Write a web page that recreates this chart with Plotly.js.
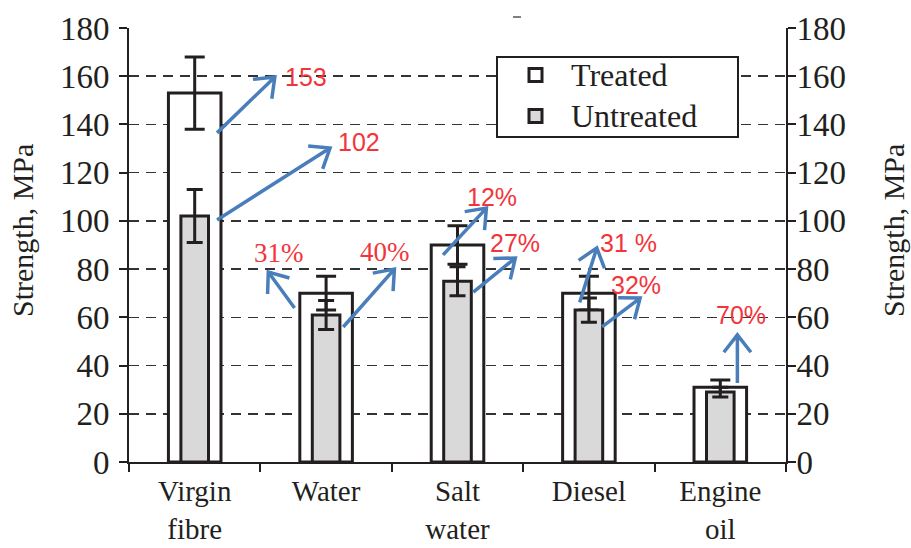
<!DOCTYPE html>
<html><head><meta charset="utf-8">
<script src="https://cdn.plot.ly/plotly-3.0.1.min.js"></script>
<style>body{margin:0;background:#fff}#chart{width:911px;height:548px}</style>
</head><body><div id="chart"></div>
<script>
const categories = ['Virgin<br>fibre', 'Water', 'Salt<br>water', 'Diesel', 'Engine<br>oil'];
const seriesNames = ['Treated', 'Untreated'];
const treated = [153, 70, 90, 70, 31];
const treatedErr = [15, 7, 8, 7, 3];
const untreated = [102, 61, 75, 63, 29];
const untreatedErr = [11, 6, 6, 5, 2];
const yTicks = [0, 20, 40, 60, 80, 100, 120, 140, 160, 180];
const gridTicks = [20, 40, 60, 80, 100, 120, 140, 160];
const yTitle = 'Strength, MPa';
const callouts = ['153', '102', '31%', '40%', '12%', '27%', '31 %', '32%', '70%'];

// arrow geometry (tail -> head, label position) in data coordinates
const arrowGeom = [
  {t:[0.17,136.5], h:[0.61,159.7], l:[0.85,159.7], f:'sans'},
  {t:[0.17,100.4], h:[1.03,130.2], l:[1.25,132.7], f:'sans'},
  {t:[0.76,63.9], h:[0.56,78.8], l:[0.64,86.7], f:'serif'},
  {t:[1.13,56.0], h:[1.52,80.0], l:[1.45,87.1], f:'serif'},
  {t:[1.89,85.9], h:[2.22,105.3], l:[2.26,110.0], f:'sans'},
  {t:[2.12,70.5], h:[2.44,84.6], l:[2.44,90.8], f:'sans'},
  {t:[2.93,66.2], h:[3.06,88.8], l:[3.30,90.8], f:'sans'},
  {t:[3.10,56.0], h:[3.39,68.0], l:[3.36,73.4], f:'sans'},
  {t:[4.13,32.8], h:[4.13,52.7], l:[4.16,61.0], f:'sans'}
];

const M = {l:129, r:125, t:28, b:86};
const W = 911, H = 548;
const plotW = W - M.l - M.r, plotH = H - M.t - M.b;
const pxX = plotW / 5;     // px per category unit
const pxY = plotH / 180;   // px per MPa

const serif = '"Liberation Serif", "Times New Roman", serif';
const sans = '"Liberation Sans", Arial, sans-serif';
const ink = '#231f20';
const blue = '#4a7ebb';
const red = '#f2353b';
const untreatedFill = '#d9d9d9';

const shapes = [];
const annotations = [];
arrowGeom.forEach((g, i) => {
  const [tx, ty] = g.t, [hx, hy] = g.h;
  const dxp = (tx - hx) * pxX, dyp = -(ty - hy) * pxY;
  const len = Math.hypot(dxp, dyp);
  const ux = dxp / len, uy = dyp / len;
  const L = 22, a = 38 * Math.PI / 180;
  const pts = [a, -a].map(ang => {
    const rx = ux * Math.cos(ang) - uy * Math.sin(ang);
    const ry = ux * Math.sin(ang) + uy * Math.cos(ang);
    return [hx + rx * L / pxX, hy - ry * L / pxY];
  });
  shapes.push({type:'path', xref:'x', yref:'y', layer:'above',
    path:`M${tx},${ty} L${hx},${hy} M${pts[0][0]},${pts[0][1]} L${hx},${hy} L${pts[1][0]},${pts[1][1]}`,
    line:{color:blue, width:3.5}});
  annotations.push({x:g.l[0], y:g.l[1], xref:'x', yref:'y', text:callouts[i], showarrow:false,
    font:{family: g.f === 'serif' ? serif : sans, size: g.f === 'serif' ? 27 : 25, color: red}});
});

// hand-drawn legend box and axis titles (paper coordinates)
const px2x = p => (p - M.l) / plotW;
const px2y = p => (H - M.b - p) / plotH;
shapes.push({type:'rect', xref:'paper', yref:'paper', x0:px2x(497), x1:px2x(738), y0:px2y(137), y1:px2y(57),
  line:{color:ink, width:2}, fillcolor:'#ffffff', layer:'above'});
[[75, '#ffffff'], [116, untreatedFill]].forEach(([cy, fc], i) => {
  shapes.push({type:'rect', xref:'paper', yref:'paper', x0:px2x(529), x1:px2x(542), y0:px2y(cy + 6.5), y1:px2y(cy - 6.5),
    line:{color:ink, width:3}, fillcolor:fc, layer:'above'});
  annotations.push({xref:'paper', yref:'paper', x:px2x(569), y:px2y(cy), xanchor:'left', yanchor:'middle',
    text:seriesNames[i], showarrow:false, font:{family:serif, size:32, color:ink}});
});
[22, 893].forEach(cx => {
  annotations.push({xref:'paper', yref:'paper', x:px2x(cx), y:px2y(231), xanchor:'center', yanchor:'middle',
    text:yTitle, textangle:-90, showarrow:false, font:{family:serif, size:30, color:ink}});
});
// small stray dash at the top of the original figure
shapes.push({type:'line', xref:'paper', yref:'paper', x0:px2x(513), x1:px2x(521), y0:px2y(17), y1:px2y(17),
  line:{color:'#555555', width:1.5}});

const traces = [
  {type:'bar', name:seriesNames[0], x:categories, y:treated, width:0.4,
   marker:{color:'#ffffff', line:{color:ink, width:3}},
   error_y:{type:'data', array:treatedErr, visible:true, color:ink, thickness:3, width:10}},
  {type:'bar', name:seriesNames[1], x:categories, y:untreated, width:0.21,
   marker:{color:untreatedFill, line:{color:ink, width:3}},
   error_y:{type:'data', array:untreatedErr, visible:true, color:ink, thickness:3, width:8}},
  {type:'scatter', x:[categories[0]], y:[0], yaxis:'y3', showlegend:false, hoverinfo:'skip',
   mode:'markers', marker:{opacity:0}},
  {type:'scatter', x:[categories[0]], y:[0], yaxis:'y2', showlegend:false, hoverinfo:'skip',
   mode:'markers', marker:{opacity:0}}
];

const layout = {
  width:W, height:H, margin:M,
  paper_bgcolor:'#ffffff', plot_bgcolor:'rgba(0,0,0,0)',
  barmode:'overlay', showlegend:false,
  font:{family:serif, color:ink, size:32},
  xaxis:{type:'category', range:[-0.5, 4.5], tickson:'boundaries', ticks:'outside', ticklen:8,
    tickwidth:2, tickcolor:ink, showline:true, linecolor:ink, linewidth:2, showgrid:false,
    tickfont:{family:serif, size:29, color:ink}, zeroline:false, automargin:false, ticklabelstandoff:2},
  yaxis:{range:[0, 180], tickvals:yTicks, ticks:'outside', ticklen:8, tickwidth:2, tickcolor:ink,
    showline:true, linecolor:ink, linewidth:2, showgrid:false, zeroline:false, automargin:false,
    tickfont:{family:serif, size:33, color:ink}, ticklabelstandoff:3},
  yaxis2:{range:[0, 180], tickvals:yTicks, overlaying:'y', side:'right', ticks:'outside', ticklen:8,
    tickwidth:2, tickcolor:ink, showline:true, linecolor:ink, linewidth:2, showgrid:false, zeroline:false,
    automargin:false, tickfont:{family:serif, size:33, color:ink}, ticklabelstandoff:-6},
  yaxis3:{range:[0, 180], tickvals:gridTicks, overlaying:'y', showticklabels:false, ticks:'',
    showgrid:true, gridcolor:'#333333', gridwidth:1.6, griddash:'10px,7px', zeroline:false, showline:false},
  shapes, annotations
};

Plotly.newPlot('chart', traces, layout, {staticPlot:true});
</script></body></html>
